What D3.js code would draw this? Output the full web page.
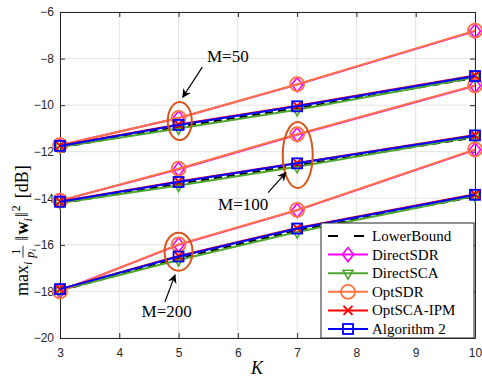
<!DOCTYPE html>
<meta charset="utf-8">
<style>
body { margin: 0; background: #fff; }
svg { display: block; background: #fff; }
.tick text { font: 12px "Liberation Sans", Arial, sans-serif; fill: #262626; }
.serif { font-family: "Liberation Serif", "Times New Roman", serif; fill: #000; }
</style>
<body>
<div id="chart"></div>
<script src="https://d3js.org/d3.v7.min.js"></script>
<script>
// K values on the x axis
var kValues = [3, 5, 7, 10];
// each series: one row per M (50, 100, 200), values in dB
var lowerBound = [
    [-11.82, -10.93, -10.13, -8.83],
    [-14.22, -13.38, -12.58, -11.38],
    [-17.97, -16.58, -15.38, -13.92]
];
var directSDR = [
    [-11.72, -10.55, -9.12, -6.82],
    [-14.10, -12.75, -11.27, -9.17],
    [-17.98, -16.00, -14.52, -11.92]
];
var directSCA = [
    [-11.80, -11.00, -10.20, -8.80],
    [-14.20, -13.45, -12.65, -11.35],
    [-17.95, -16.65, -15.45, -13.90]
];
var optSDR = [
    [-11.72, -10.55, -9.10, -6.80],
    [-14.10, -12.73, -11.25, -9.15],
    [-18.00, -15.98, -14.50, -11.90]
];
var optSCA = [
    [-11.74, -10.83, -10.03, -8.73],
    [-14.14, -13.28, -12.48, -11.28],
    [-17.90, -16.48, -15.28, -13.83]
];
var algorithm2 = [
    [-11.75, -10.85, -10.05, -8.75],
    [-14.15, -13.30, -12.50, -11.30],
    [-17.90, -16.50, -15.30, -13.85]
];
var seriesNames = ["LowerBound", "DirectSDR", "DirectSCA", "OptSDR", "OptSCA-IPM", "Algorithm 2"];
var xTicks = [3, 4, 5, 6, 7, 8, 9, 10];
var yTicks = [-20, -18, -16, -14, -12, -10, -8, -6];
// annotation ellipses and labels, in data units
var ellipses = [
    { k: 5.02, v: -10.68, rx: 12, ry: 19 },
    { k: 7.01, v: -12.14, rx: 15, ry: 33 },
    { k: 5.00, v: -16.30, rx: 14, ry: 19 }
];
var labels = [
    { text: "M=50", k: 5.83, v: -8.15, k0: 5.40, v0: -8.37, k1: 5.07, v1: -9.66 },
    { text: "M=100", k: 6.09, v: -14.49, k0: 6.51, v0: -13.76, k1: 6.81, v1: -12.90 },
    { text: "M=200", k: 4.80, v: -19.10, k0: 4.77, v0: -18.45, k1: 4.94, v1: -17.29 }
];

var W = 482, H = 377;
var padL = 60, padR = 475, padT = 12, padB = 338;

var styles = [
    { data: lowerBound, color: "#000", dash: "8,5", marker: "none" },
    { data: directSDR, color: "#ff00ff", dash: null, marker: "diamond" },
    { data: directSCA, color: "#4ea72e", dash: null, marker: "triangle" },
    { data: optSDR, color: "#ff7340", dash: null, marker: "circle" },
    { data: optSCA, color: "#ff0000", dash: null, marker: "cross" },
    { data: algorithm2, color: "#0000ff", dash: null, marker: "square" }
];

var svg = d3.select("#chart").append("svg").attr("width", W).attr("height", H);

var x = d3.scaleLinear().domain([3, 10]).range([padL, padR]);
var y = d3.scaleLinear().domain([-20, -6]).range([padB, padT]);

// grid
svg.append("g").selectAll("line").data(xTicks).enter().append("line")
    .attr("x1", function(d) { return x(d); }).attr("x2", function(d) { return x(d); })
    .attr("y1", padT).attr("y2", padB)
    .attr("stroke", "#e3e3e3").attr("stroke-width", 1);
svg.append("g").selectAll("line").data(yTicks).enter().append("line")
    .attr("y1", function(d) { return y(d); }).attr("y2", function(d) { return y(d); })
    .attr("x1", padL).attr("x2", padR)
    .attr("stroke", "#e3e3e3").attr("stroke-width", 1);

// axes, ticks inward like matlab
function styleAxis(g) {
    g.select(".domain").attr("stroke", "#262626").attr("stroke-width", 1);
    g.selectAll(".tick line").attr("stroke", "#262626");
}
var fmt = d3.format("d");
svg.append("g").attr("transform", "translate(0," + padB + ")")
    .call(d3.axisBottom(x).tickValues(xTicks).tickSize(-5).tickSizeOuter(0).tickPadding(10).tickFormat(fmt))
    .call(styleAxis);
svg.append("g").attr("transform", "translate(" + padL + ",0)")
    .call(d3.axisLeft(y).tickValues(yTicks).tickSize(-5).tickSizeOuter(0).tickPadding(6).tickFormat(fmt))
    .call(styleAxis);
svg.append("g").attr("transform", "translate(0," + padT + ")")
    .call(d3.axisTop(x).tickValues(xTicks).tickSize(-5).tickSizeOuter(0).tickFormat(""))
    .call(styleAxis);
svg.append("g").attr("transform", "translate(" + padR + ",0)")
    .call(d3.axisRight(y).tickValues(yTicks).tickSize(-5).tickSizeOuter(0).tickFormat(""))
    .call(styleAxis);
svg.selectAll(".tick text").attr("fill", "#262626");

function drawMarker(g, type, cx, cy, color) {
    if (type === "diamond") {
        g.append("path").attr("d", "M" + cx + "," + (cy - 7) + "L" + (cx + 5.5) + "," + cy +
            "L" + cx + "," + (cy + 7) + "L" + (cx - 5.5) + "," + cy + "Z")
            .attr("fill", "none").attr("stroke", color).attr("stroke-width", 1.6);
    } else if (type === "triangle") {
        g.append("path").attr("d", "M" + (cx - 5) + "," + (cy - 3) + "L" + (cx + 5) + "," + (cy - 3) +
            "L" + cx + "," + (cy + 6) + "Z")
            .attr("fill", "none").attr("stroke", color).attr("stroke-width", 1.6);
    } else if (type === "circle") {
        g.append("circle").attr("cx", cx).attr("cy", cy).attr("r", 7)
            .attr("fill", "none").attr("stroke", color).attr("stroke-width", 1.8);
    } else if (type === "cross") {
        g.append("path").attr("d", "M" + (cx - 4.5) + "," + (cy - 4.5) + "L" + (cx + 4.5) + "," + (cy + 4.5) +
            "M" + (cx - 4.5) + "," + (cy + 4.5) + "L" + (cx + 4.5) + "," + (cy - 4.5))
            .attr("stroke", color).attr("stroke-width", 2);
    } else if (type === "square") {
        g.append("rect").attr("x", cx - 5).attr("y", cy - 5).attr("width", 10).attr("height", 10)
            .attr("fill", "none").attr("stroke", color).attr("stroke-width", 1.8);
    }
}

var line = d3.line()
    .x(function(d, i) { return x(kValues[i]); })
    .y(function(d) { return y(d); });

var plot = svg.append("g");
styles.forEach(function(s) {
    s.data.forEach(function(row) {
        var g = plot.append("g");
        g.append("path").datum(row).attr("d", line)
            .attr("fill", "none").attr("stroke", s.color).attr("stroke-width", 2)
            .attr("stroke-dasharray", s.dash);
        row.forEach(function(v, i) {
            drawMarker(g, s.marker, x(kValues[i]), y(v), s.color);
        });
    });
});

// annotations
svg.append("defs").append("marker")
    .attr("id", "arrow").attr("viewBox", "0 0 10 10").attr("refX", 9).attr("refY", 5)
    .attr("markerWidth", 9).attr("markerHeight", 9).attr("orient", "auto")
    .attr("markerUnits", "userSpaceOnUse")
    .append("path").attr("d", "M0,0L10,5L0,10L3,5Z").attr("fill", "#000");

svg.append("g").selectAll("ellipse").data(ellipses).enter().append("ellipse")
    .attr("cx", function(d) { return x(d.k); }).attr("cy", function(d) { return y(d.v); })
    .attr("rx", function(d) { return d.rx; }).attr("ry", function(d) { return d.ry; })
    .attr("fill", "none").attr("stroke", "#d9541a").attr("stroke-width", 2);

labels.forEach(function(d) {
    svg.append("line")
        .attr("x1", x(d.k0)).attr("y1", y(d.v0)).attr("x2", x(d.k1)).attr("y2", y(d.v1))
        .attr("stroke", "#000").attr("stroke-width", 1.2).attr("marker-end", "url(#arrow)");
    svg.append("text").attr("class", "serif")
        .attr("x", x(d.k)).attr("y", y(d.v)).attr("text-anchor", "middle")
        .style("font-size", "17px").text(d.text);
});

// legend
var lg = svg.append("g").attr("transform", "translate(321,223)");
lg.append("rect").attr("width", 153).attr("height", 115)
    .attr("fill", "#fff").attr("stroke", "#262626").attr("stroke-width", 1);
styles.forEach(function(s, i) {
    var cy = 13 + i * 18.6;
    var row = lg.append("g");
    row.append("line").attr("x1", 7).attr("x2", 47).attr("y1", cy).attr("y2", cy)
        .attr("stroke", s.color).attr("stroke-width", 2)
        .attr("stroke-dasharray", s.dash ? "10,16" : null);
    drawMarker(row, s.marker, 27, cy, s.color);
    row.append("text").attr("class", "serif").attr("x", 51).attr("y", cy + 5)
        .style("font-size", "15px").text(seriesNames[i]);
});

// x label
svg.append("text").attr("class", "serif")
    .attr("x", 257).attr("y", 374).attr("text-anchor", "middle")
    .style("font-size", "18px").style("font-style", "italic").text("K");

// y label: max_i (1/p_i) ||w_i||^2 [dB], built piece by piece
var yl = svg.append("g").attr("class", "serif").attr("transform", "translate(28,296) rotate(-90)");
var cur = 0;
function piece(txt, opts) {
    opts = opts || {};
    var t = yl.append("text").attr("x", cur).attr("y", opts.dy || 0)
        .style("font-size", (opts.size || 18) + "px")
        .style("font-style", opts.italic ? "italic" : null)
        .style("font-weight", opts.bold ? "bold" : null)
        .text(txt);
    var w = t.node().getComputedTextLength();
    cur += w + (opts.gap || 0);
    return w;
}
piece("max");
piece("i", { size: 12, italic: true, dy: 4, gap: 4 });
// fraction 1 / p_i
var fx = cur;
yl.append("text").attr("x", fx + 6).attr("y", -8).attr("text-anchor", "middle")
    .style("font-size", "12px").text("1");
yl.append("line").attr("x1", fx).attr("x2", fx + 12).attr("y1", -5).attr("y2", -5)
    .attr("stroke", "#000").attr("stroke-width", 0.8);
yl.append("text").attr("x", fx).attr("y", 6).style("font-size", "12px").style("font-style", "italic").text("p");
yl.append("text").attr("x", fx + 6.5).attr("y", 8).style("font-size", "8px").style("font-style", "italic").text("i");
cur = fx + 17;
piece("\u2016", { gap: 1 });
piece("w", { bold: true });
piece("i", { size: 12, italic: true, dy: 4, gap: 1 });
piece("\u2016", { gap: 1 });
piece("2", { size: 12, dy: -8, gap: 7 });
piece("[dB]");
</script>
</body>
